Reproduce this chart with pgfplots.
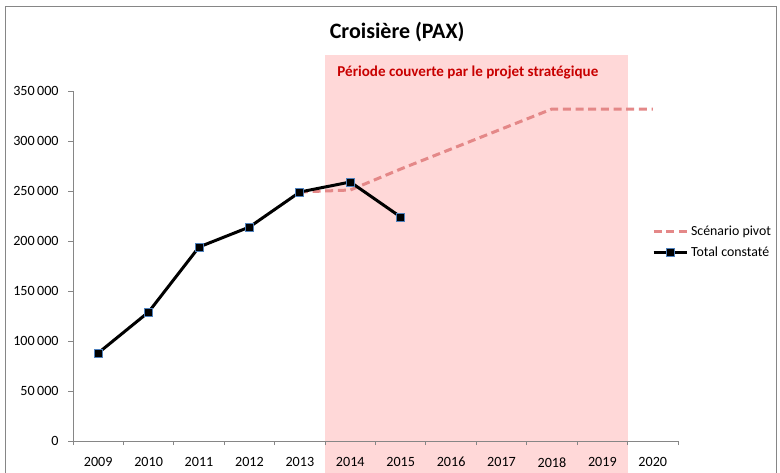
\documentclass[border=0pt]{standalone}
\usepackage{pgfplots}
\pgfplotsset{compat=1.18}
\usepackage{fontspec}
\setmainfont{Carlito}
\definecolor{pinkbg}{RGB}{255,216,216}
\definecolor{scen}{RGB}{228,136,136}
\definecolor{axgray}{RGB}{134,134,134}
\definecolor{mkblue}{RGB}{79,129,189}
\definecolor{darkred}{RGB}{200,0,0}
\pgfplotsset{
    dashlegend/.style={legend image code/.code={\draw[##1] (0pt,0pt) -- (25pt,0pt);}},
    marklegend/.style={legend image code/.code={\draw[##1,mark repeat=2,mark phase=2] plot coordinates {(0pt,0pt) (12.5pt,0pt) (25pt,0pt)};}},
}

\begin{document}
\begin{tikzpicture}
\begin{axis}[
    scale only axis,
    width=453.75pt, height=262.5pt,
    xmin=2008.5, xmax=2020.5,
    ymin=0, ymax=350000,
    clip=false, axis on top,
    axis x line*=bottom, axis y line*=left,
    axis line style={axgray, line width=0.75pt},
    tick align=outside,
    tick style={axgray, line width=0.75pt},
    xtick={2009,2010,2011,2012,2013,2014,2015,2016,2017,2018,2019,2020},
    xticklabels={2009,2010,2011,2012,2013,2014,2015,2016,2017,2018,2019,2020},
    major x tick style={draw=none},
    minor xtick={2008.5,2009.5,2010.5,2011.5,2012.5,2013.5,2014.5,2015.5,2016.5,2017.5,2018.5,2019.5,2020.5},
    minor tick length=3pt, major tick length=3.75pt,
    ytick={0,50000,100000,150000,200000,250000,300000,350000},
    scaled y ticks=false,
    yticklabel={\pgfmathprintnumber[fixed,precision=0,assume math mode=true,1000 sep={\,}]{\tick}},
    ticklabel style={font=\fontsize{10.6}{12}\selectfont},
    xticklabel style={yshift=-5pt},
    yticklabel style={xshift=-3.5pt},
    legend style={draw=none, fill=none, at={(0.95,0.63)}, anchor=north west,
        font=\fontsize{10.4}{12}\selectfont, row sep=3pt},
    legend cell align=left,
]
\coordinate (bl) at (axis cs:2007.052,-31000);
\coordinate (tr) at (axis cs:2022.523,441000);
\fill[pinkbg] (axis cs:2013.5,-40000) rectangle (axis cs:2019.5,386000);

\addplot[scen, line width=2.25pt, dash pattern=on 6pt off 3.5pt, dashlegend]
coordinates {
(2013,249000) (2014,251000) (2015,272000) (2016,292000) (2017,312000)
(2018,332000) (2019,332000) (2020,332000)
};
\addlegendentry{Scénario pivot}

\addplot[black, line width=2.25pt, mark=square*, mark size=3pt,
    mark options={fill=black, draw=mkblue, line width=0.6pt, solid}, marklegend]
coordinates {
(2009,88000) (2010,129000) (2011,194000) (2012,214000)
(2013,249000) (2014,259000) (2015,224000)
};
\addlegendentry{Total constaté}

\node[font=\fontsize{16.5}{20}\selectfont\bfseries] at (axis cs:2014.93,409000) {Croisière (PAX)};
\node[anchor=west, inner sep=0pt, text=darkred, font=\fontsize{11.3}{13}\selectfont\bfseries]
    at (axis cs:2013.74,369000) {Période couverte par le projet stratégique};
\draw[axgray, line width=0.75pt] (axis cs:2007.171,-60000) -- (axis cs:2007.171,434000)
    -- (axis cs:2022.444,434000) -- (axis cs:2022.444,-60000);
\end{axis}
\pgfresetboundingbox
\useasboundingbox (bl) rectangle (tr);
\end{tikzpicture}
\end{document}
